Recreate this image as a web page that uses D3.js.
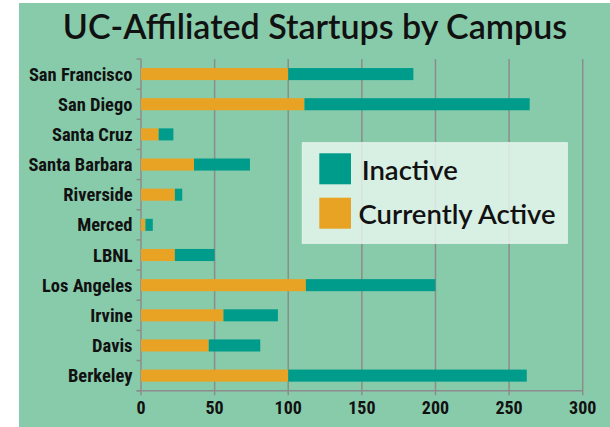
<!DOCTYPE html>
<html><head><meta charset="utf-8">
<script src="https://cdn.jsdelivr.net/npm/d3@7"></script>
<style>
html,body{margin:0;padding:0;background:#fff;}
svg{display:block;}
</style></head>
<body>
<svg id="chart" width="610" height="427"></svg>
<script>
const title = "UC-Affiliated Startups by Campus";
const campuses = ["San Francisco","San Diego","Santa Cruz","Santa Barbara","Riverside","Merced","LBNL","Los Angeles","Irvine","Davis","Berkeley"];
const currentlyActive = [100,111,12,36,23,3,23,112,56,46,100];
const inactive = [85,153,10,38,5,5,27,88,37,35,162];
const xTicks = [0,50,100,150,200,250,300];
const seriesNames = ["Inactive","Currently Active"];
const seriesColors = ["#009C8B","#E8A324"];

const svg = d3.select("#chart");
const W = 610, H = 427;
const bg = "#88CBAB";
const gridColor = "#8C8C8C";
const labelFont = "'Liberation Sans Narrow','Arial Narrow','Roboto Condensed',sans-serif";

svg.append("rect").attr("x",19).attr("y",3).attr("width",W-19).attr("height",H-3).attr("fill",bg);

svg.append("text").attr("x",315).attr("y",38.5).attr("text-anchor","middle")
  .attr("font-family","Lato, 'Open Sans', sans-serif").attr("font-weight",600).attr("font-size",34).attr("fill","#111")
  .text(title);

const x0 = 141, x1 = 582.7, yTop = 59, yBot = 390.7;
const x = d3.scaleLinear().domain([0,300]).range([x0,x1]);
const y = d3.scaleBand().domain(campuses).range([yTop,yBot]).padding(0);
const barH = y.bandwidth()*0.4;

// gridlines
svg.append("g").selectAll("line").data(xTicks).join("line")
  .attr("x1",d=>x(d)).attr("x2",d=>x(d)).attr("y1",yTop).attr("y2",yBot+4.5)
  .attr("stroke",gridColor).attr("stroke-width",1.5);

// x axis line
svg.append("line").attr("x1",x0-4.5).attr("x2",x1).attr("y1",yBot).attr("y2",yBot)
  .attr("stroke",gridColor).attr("stroke-width",1.5);

// y axis ticks at band boundaries
const bounds = campuses.map(c=>y(c)).concat([yBot]);
svg.append("g").selectAll("line").data(bounds).join("line")
  .attr("x1",x0-4.5).attr("x2",x0).attr("y1",d=>d).attr("y2",d=>d)
  .attr("stroke",gridColor).attr("stroke-width",1.5);

// bars
const g = svg.append("g");
campuses.forEach((c,i)=>{
  const yy = y(c) + (y.bandwidth()-barH)/2;
  g.append("rect").attr("x",x(0)).attr("y",yy).attr("width",x(currentlyActive[i])-x(0)).attr("height",barH).attr("fill",seriesColors[1]);
  g.append("rect").attr("x",x(currentlyActive[i])).attr("y",yy).attr("width",x(currentlyActive[i]+inactive[i])-x(currentlyActive[i])).attr("height",barH).attr("fill",seriesColors[0]);
});

// y labels
svg.append("g").selectAll("text").data(campuses).join("text")
  .attr("x",x0-8.5).attr("y",d=>y(d)+y.bandwidth()/2+6.6).attr("text-anchor","end")
  .attr("font-family",labelFont).attr("font-weight","bold").attr("font-size",18.5).attr("fill","#111")
  .text(d=>d);

// x labels
svg.append("g").selectAll("text").data(xTicks).join("text")
  .attr("x",d=>x(d)).attr("y",414.3).attr("text-anchor","middle")
  .attr("font-family",labelFont).attr("font-weight","bold").attr("font-size",18).attr("fill","#111")
  .text(d=>d);

// legend
const lg = svg.append("g");
lg.append("rect").attr("x",302.3).attr("y",142.7).attr("width",265).attr("height",100.6)
  .attr("fill","#EAF6EF").attr("fill-opacity",0.82).attr("stroke","#E6F3EC").attr("stroke-width",1);
seriesNames.forEach((s,i)=>{
  const sy = 153.3 + i*44.4;
  lg.append("rect").attr("x",319.3).attr("y",sy).attr("width",31.7).attr("height",31).attr("fill",seriesColors[i]);
  lg.append("text").attr("x",i===0?361.7:358.5).attr("y",sy+26.7)
    .attr("font-family","Lato, 'Open Sans', sans-serif").attr("font-weight",600).attr("font-size",27.5).attr("fill","#111").text(s);
});
</script>
</body></html>
